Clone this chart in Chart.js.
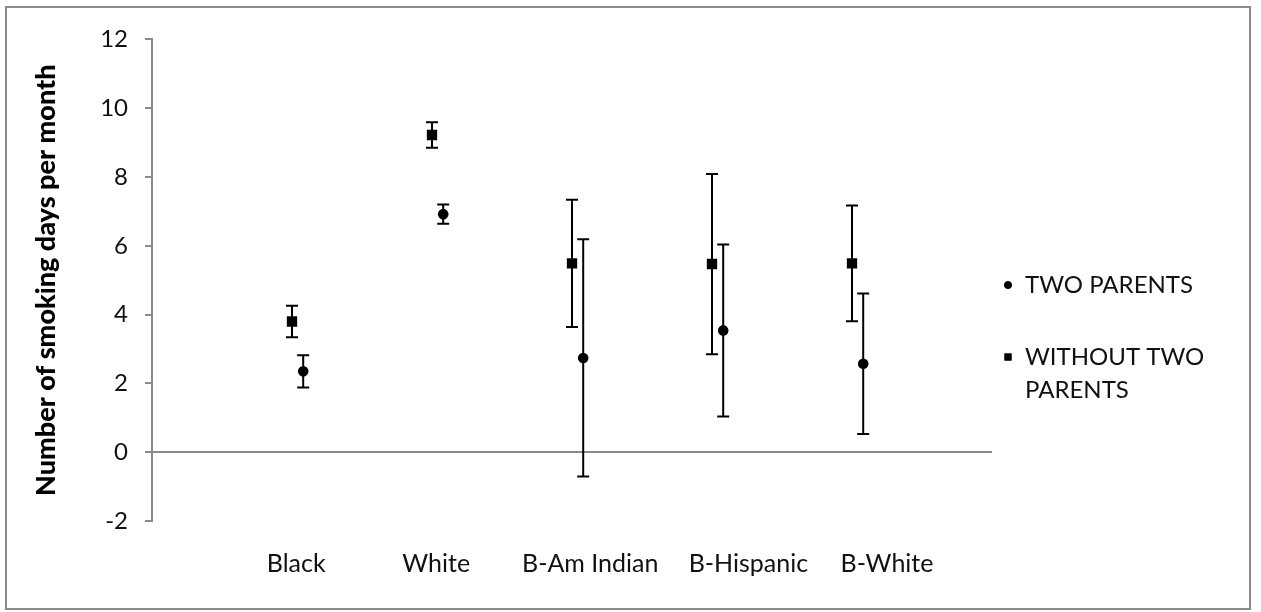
<!DOCTYPE html>
<html>
<head>
<meta charset="utf-8">
<script src="https://cdn.jsdelivr.net/npm/chart.js@4.4.1/dist/chart.umd.min.js"></script>
<style>
  html, body { margin: 0; padding: 0; background: #fff; }
  #marco {
    position: absolute; left: 5px; top: 6px;
    width: 1242px; height: 600px;
    border: 2px solid #8a8a8a;
  }
  canvas { display: block; }
</style>
</head>
<body>
<div id="marco"><canvas id="grafica" width="1242" height="600"></canvas></div>
<script>
// categorias y valores
var categorias = ["Black", "White", "B-Am Indian", "B-Hispanic", "B-White"];
var dosPadres = [2.35, 6.92, 2.74, 3.54, 2.57];
var dosPadresError = [0.47, 0.28, 3.45, 2.50, 2.04];
var sinDosPadres = [3.80, 9.22, 5.49, 5.47, 5.49];
var sinDosPadresError = [0.46, 0.37, 1.85, 2.62, 1.68];
var yMin = -2, yMax = 12, yPaso = 2;

var desplazamiento = 0.08; // separacion entre series dentro de cada categoria
var ajusteEtiqueta = [0.03, 0.03, 0.13, 0.26, 0.25]; // las etiquetas del original no estan centradas
var fuente = "Lato";
var colorTexto = "#111";
var colorEje = "#8a8a8a";

function puntos(valores, errores, dx) {
    return valores.map(function(v, i) {
        return { x: i + 1 + dx, y: v, err: errores[i] };
    });
}

var barrasError = {
    id: "barrasError",
    beforeDatasetsDraw: function(chart) {
        var ctx = chart.ctx;
        var xs = chart.scales.x, ys = chart.scales.y;
        ctx.save();
        ctx.strokeStyle = "#000";
        ctx.lineWidth = 2;
        chart.data.datasets.forEach(function(ds) {
            ds.data.forEach(function(p) {
                var px = xs.getPixelForValue(p.x);
                var arriba = ys.getPixelForValue(p.y + p.err);
                var abajo = ys.getPixelForValue(p.y - p.err);
                ctx.beginPath();
                ctx.moveTo(px, arriba); ctx.lineTo(px, abajo);
                ctx.moveTo(px - 6, arriba); ctx.lineTo(px + 6, arriba);
                ctx.moveTo(px - 6, abajo); ctx.lineTo(px + 6, abajo);
                ctx.stroke();
            });
        });
        ctx.restore();
    }
};

var leyenda = {
    id: "leyenda",
    afterDraw: function(chart) {
        var ctx = chart.ctx;
        var x0 = chart.chartArea.right;
        var filas = [
            { ds: chart.data.datasets[0], lineas: ["TWO PARENTS"], y: 277 },
            { ds: chart.data.datasets[1], lineas: ["WITHOUT TWO", "PARENTS"], y: 349 }
        ];
        ctx.save();
        ctx.font = "24px " + fuente;
        ctx.textBaseline = "middle";
        filas.forEach(function(f) {
            Chart.helpers.drawPoint(ctx, {
                pointStyle: f.ds.pointStyle, radius: f.ds.pointStyle === "rect" ? 5 : 3.8,
                rotation: 0, borderWidth: 0
            }, x0 + 16, f.y);
            ctx.fillStyle = "#000";
            ctx.fill();
            ctx.fillStyle = colorTexto;
            f.lineas.forEach(function(t, k) {
                ctx.fillText(t, x0 + 33, f.y + k * 33);
            });
        });
        ctx.restore();
    }
};

new Chart(document.getElementById("grafica"), {
    type: "scatter",
    data: {
        datasets: [
            {
                label: "TWO PARENTS",
                data: puntos(dosPadres, dosPadresError, desplazamiento),
                pointStyle: "circle", pointRadius: 5.3,
                backgroundColor: "#000", borderColor: "#000", borderWidth: 0
            },
            {
                label: "WITHOUT TWO PARENTS",
                data: puntos(sinDosPadres, sinDosPadresError, 0),
                pointStyle: "rect", pointRadius: 7.3,
                backgroundColor: "#000", borderColor: "#000", borderWidth: 0
            }
        ]
    },
    options: {
        responsive: false,
        animation: false,
        layout: { padding: { left: 0, top: 30, right: 257, bottom: 0 } },
        plugins: { legend: { display: false }, tooltip: { enabled: false } },
        scales: {
            x: {
                type: "linear", min: 0, max: 6,
                afterFit: function(s) { s.height = 87; },
                afterBuildTicks: function(s) {
                    s.ticks = categorias.map(function(c, i) { return { value: i + 1 + ajusteEtiqueta[i] }; });
                },
                ticks: {
                    color: colorTexto, font: { family: fuente, size: 25 }, padding: 28,
                    maxRotation: 0, autoSkip: false,
                    callback: function(v, i) { return categorias[i]; }
                },
                grid: { display: false, drawTicks: false },
                border: { display: false }
            },
            y: {
                min: yMin, max: yMax,
                afterFit: function(s) { s.width = 145; },
                ticks: {
                    stepSize: yPaso, color: colorTexto, font: { family: fuente, size: 24 }, padding: 17
                },
                grid: {
                    color: function(c) { return c.tick && c.tick.value === 0 ? colorEje : "rgba(0,0,0,0)"; },
                    lineWidth: 2, tickColor: colorEje, tickLength: 7, drawTicks: true
                },
                border: { color: colorEje, width: 2 },
                title: {
                    display: true, text: "Number of smoking days per month", color: "#000",
                    font: { family: fuente, size: 27, weight: "900" }, padding: { top: 23, bottom: 0 }
                }
            }
        }
    },
    plugins: [barrasError, leyenda]
});
</script>
</body>
</html>
